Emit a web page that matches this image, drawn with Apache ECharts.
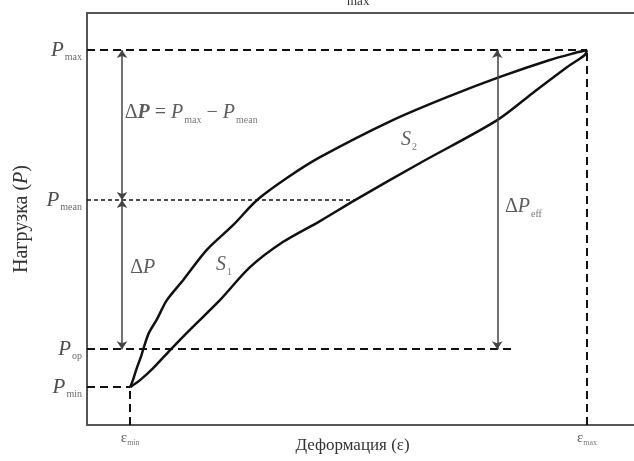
<!DOCTYPE html>
<html>
<head>
<meta charset="utf-8">
<script src="https://cdn.jsdelivr.net/npm/echarts@6/dist/echarts.min.js"></script>
<style>
  html, body { margin: 0; padding: 0; background: #fff; }
  #chart { width: 634px; height: 461px; }
</style>
</head>
<body>
<div id="chart"></div>
<script>
// Characteristic levels of the cycle (axis units: 0..100 of deformation / load)
const epsMin = 7.9;
const epsMax = 91.4;
const pMax = 91.0;
const pMean = 54.6;
const pOp = 18.4;
const pMin = 9.2;

// Loading branch (upper curve), [deformation, load]
const loadingCurve = [
  [7.9, 9.2], [8.4, 10.9], [9.1, 13.8], [9.9, 16.7], [10.4, 18.9],
  [11.3, 22.3], [12.8, 25.7], [14.6, 30.3], [17.6, 35.2], [21.9, 42.5],
  [26.7, 48.5], [31.1, 54.6], [36.6, 60.0], [42.6, 65.0], [55.9, 74.0],
  [66.4, 79.9], [75.5, 84.5], [84.6, 88.6], [89.2, 90.3], [91.4, 91.0]
];

// Unloading branch (lower curve), [deformation, load]
const unloadingCurve = [
  [7.9, 9.2], [9.7, 10.9], [12.1, 13.8], [15.2, 18.2], [18.8, 23.1],
  [24.3, 30.3], [29.8, 38.3], [35.8, 44.4], [42.6, 49.5], [49.0, 54.6],
  [60.9, 63.6], [75.0, 74.0], [81.5, 80.6], [87.8, 86.9], [91.0, 89.8],
  [91.4, 91.0]
];

// Extent of the reference lines and the arrow positions
const meanLineEnd = 49.0;
const opLineEnd = 77.7;
const dpArrowX = 6.4;
const effArrowX = 75.0;

const SERIF = '"Liberation Serif", "DejaVu Serif", serif';

const chart = echarts.init(document.getElementById('chart'), null, { renderer: 'canvas' });

const pRich = {
  P: { fontFamily: SERIF, fontStyle: 'italic', fontSize: 21, color: '#222' },
  s: { fontFamily: SERIF, fontSize: 10, color: '#444', padding: [15, 0, 0, 1] }
};

function pLabel(sub, y) {
  return {
    value: [0, y],
    label: {
      show: true, position: 'left', distance: 5,
      formatter: '{P|P}{s|' + sub + '}', rich: pRich
    }
  };
}

function epsLabel(sub, x) {
  return {
    value: [x, 0],
    label: {
      show: true, position: 'bottom', distance: 4,
      formatter: '{e|ε}{s|' + sub + '}',
      rich: {
        e: { fontFamily: SERIF, fontSize: 15, color: '#333' },
        s: { fontFamily: SERIF, fontSize: 8, color: '#555', padding: [10, 0, 0, 0] }
      }
    }
  };
}

const textRich = {
  n: { fontFamily: SERIF, fontSize: 20, color: '#333' },
  i: { fontFamily: SERIF, fontStyle: 'italic', fontSize: 20, color: '#333' },
  b: { fontFamily: SERIF, fontStyle: 'italic', fontWeight: 'bold', fontSize: 20, color: '#333' },
  s: { fontFamily: SERIF, fontSize: 10, color: '#555', padding: [14, 0, 0, 1] }
};

function note(x, y, fmt) {
  return {
    value: [x, y],
    label: { show: true, position: 'right', distance: 0, formatter: fmt, rich: textRich }
  };
}

const dashLong = { color: '#111', width: 2, type: [8, 5] };
const dashShort = { color: '#111', width: 1.5, type: [4, 3] };
const arrowLine = { color: '#444', width: 1.5, type: 'solid' };

function seg(x1, y1, x2, y2, style) {
  return [{ coord: [x1, y1], lineStyle: style }, { coord: [x2, y2] }];
}

const option = {
  animation: false,
  title: {
    text: 'max',
    left: 342, top: -10,
    textStyle: { fontFamily: SERIF, fontSize: 13, fontWeight: 'normal', color: '#333' }
  },
  grid: { left: 87, top: 13, right: 0, bottom: 36, outerBoundsMode: 'none', containLabel: false },
  xAxis: [
    {
      type: 'value', min: 0, max: 100,
      axisLine: { show: true, onZero: false, lineStyle: { color: '#555', width: 2 } },
      axisTick: { show: false }, axisLabel: { show: false }, splitLine: { show: false },
      name: 'Деформация (ε)', nameLocation: 'middle', nameGap: 12,
      nameTextStyle: { fontFamily: SERIF, fontSize: 17, color: '#333', padding: [0, 16, 0, 0] }
    },
    {
      type: 'value', min: 0, max: 100, position: 'top',
      axisLine: { show: true, onZero: false, lineStyle: { color: '#555', width: 2 } },
      axisTick: { show: false }, axisLabel: { show: false }, splitLine: { show: false }
    }
  ],
  yAxis: {
    type: 'value', min: 0, max: 100,
    axisLine: { show: true, onZero: false, lineStyle: { color: '#555', width: 2 } },
    axisTick: { show: false }, axisLabel: { show: false }, splitLine: { show: false },
    name: 'Нагрузка ({i|P})', nameLocation: 'middle', nameGap: 55, nameRotate: 90,
    nameTextStyle: {
      fontFamily: SERIF, fontSize: 20, color: '#333',
      rich: { i: { fontFamily: SERIF, fontStyle: 'italic', fontSize: 20, color: '#333' } }
    }
  },
  series: [
    {
      name: 'reference lines',
      type: 'line', data: [], silent: true,
      markLine: {
        silent: true, symbol: 'none', animation: false,
        label: { show: false },
        data: [
          seg(0, pMax, epsMax, pMax, dashLong),
          seg(0, pMean, meanLineEnd, pMean, dashShort),
          seg(0, pOp, opLineEnd, pOp, dashLong),
          seg(0, pMin, epsMin, pMin, dashLong),
          seg(epsMin, 0, epsMin, pMin, dashLong),
          seg(epsMax, 0, epsMax, pMax, dashLong)
        ]
      }
    },
    {
      name: 'arrows',
      type: 'line', data: [], silent: true,
      markLine: {
        silent: true, symbol: ['arrow', 'arrow'], symbolSize: 8, animation: false,
        label: { show: false },
        data: [
          seg(dpArrowX, pMax, dpArrowX, pMean, arrowLine),
          seg(dpArrowX, pMean, dpArrowX, pOp, arrowLine),
          seg(effArrowX, pMax, effArrowX, pOp, arrowLine)
        ]
      }
    },
    {
      name: 'loading',
      type: 'line', data: loadingCurve, showSymbol: false,
      smooth: 0.3,
      lineStyle: { color: '#111', width: 2.5 }
    },
    {
      name: 'unloading',
      type: 'line', data: unloadingCurve, showSymbol: false,
      smooth: 0.3,
      lineStyle: { color: '#111', width: 2.5 }
    },
    {
      name: 'labels',
      type: 'scatter', symbolSize: 0, silent: true,
      data: [
        pLabel('max', pMax),
        pLabel('mean', pMean),
        pLabel('op', pOp),
        pLabel('min', pMin),
        epsLabel('min', epsMin),
        epsLabel('max', epsMax),
        note(6.9, 75.7, '{n|Δ}{b|P}{n| = }{i|P}{s|max}{n| − }{i|P}{s|mean}'),
        note(7.9, 38.1, '{n|Δ}{i|P}'),
        note(23.6, 38.8, '{i|S}{s|1}'),
        note(57.4, 69.2, '{i|S}{s|2}'),
        note(76.4, 52.9, '{n|Δ}{i|P}{s|eff}')
      ]
    }
  ]
};

chart.setOption(option);
</script>
</body>
</html>
